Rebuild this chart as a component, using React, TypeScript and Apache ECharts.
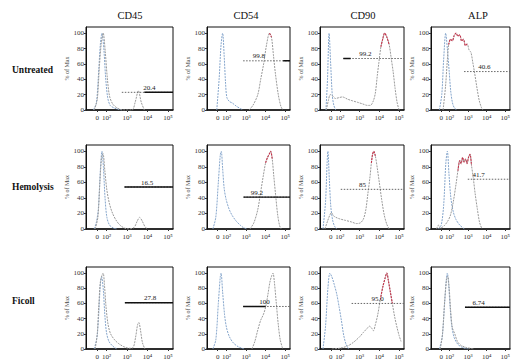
import React, { useEffect, useRef } from "react";
import * as echarts from "echarts";

const FONT = '"Liberation Serif", "DejaVu Serif", serif';

const columns = ["CD45", "CD54", "CD90", "ALP"];
const rows = ["Untreated", "Hemolysis", "Ficoll"];
const xTickValues = [1.55, 2, 3, 4, 5];
const xTickLabels = ["0", "10²", "10³", "10⁴", "10⁵"];
const yTickValues = [0, 20, 40, 60, 80, 100];
const X_MIN = 1.0;
const X_MAX = 5.25;
const Y_MAX = 108;

// ---- Untreated ----
const untreatedCD45Control = [[1.35,0],[1.5,8],[1.6,42],[1.7,85],[1.78,100],[1.87,80],[1.96,42],[2.06,16],[2.18,6],[2.35,3],[2.55,1],[2.75,0]];
const untreatedCD45Sample = [[1.4,0],[1.55,14],[1.65,55],[1.75,88],[1.84,100],[1.94,76],[2.04,42],[2.15,18],[2.3,8],[2.5,3],[2.8,0],[3.25,0],[3.4,10],[3.56,25],[3.7,10],[3.85,0]];
const untreatedCD54Control = [[1.5,0],[1.62,40],[1.72,85],[1.8,100],[1.88,70],[1.95,35],[2.02,16],[2.15,11],[2.3,9],[2.5,5],[2.7,2],[2.85,0]];
const untreatedCD54Sample = [[3.15,0],[3.35,6],[3.6,20],[3.75,40],[3.9,60],[4.05,85],[4.2,100],[4.3,95],[4.4,72],[4.5,48],[4.65,20],[4.78,5],[4.88,0]];
const untreatedCD90Control = [[1.3,0],[1.38,40],[1.46,100],[1.54,60],[1.62,20],[1.7,6],[1.8,0]];
const untreatedCD90Sample = [[1.32,0],[1.42,12],[1.52,20],[1.65,18],[1.78,15],[1.95,16],[2.13,17],[2.4,14],[2.64,12],[2.9,10],[3.15,8],[3.4,6],[3.55,6],[3.7,12],[3.8,22],[3.9,45],[3.98,62],[4.08,82],[4.18,93],[4.27,100],[4.38,95],[4.5,85],[4.6,68],[4.7,50],[4.8,28],[4.9,10],[5.0,0]];
const untreatedALPControl = [[1.45,0],[1.58,20],[1.68,65],[1.79,100],[1.88,80],[1.98,50],[2.06,25],[2.15,10],[2.25,3],[2.4,0]];
const untreatedALPSample = [[1.65,0],[1.78,30],[1.88,65],[1.95,85],[2.05,92],[2.15,90],[2.25,97],[2.35,100],[2.45,96],[2.55,98],[2.65,90],[2.75,92],[2.85,84],[2.95,86],[3.05,78],[3.15,75],[3.25,62],[3.35,48],[3.48,28],[3.6,12],[3.72,3],[3.8,0]];

// ---- Hemolysis ----
const hemolysisCD45Control = [[1.4,0],[1.5,8],[1.6,25],[1.7,75],[1.78,100],[1.85,80],[1.93,40],[2.02,15],[2.15,5],[2.35,1],[2.5,0]];
const hemolysisCD45Sample = [[1.45,0],[1.58,15],[1.68,60],[1.76,92],[1.83,97],[1.92,75],[2.02,50],[2.15,32],[2.3,20],[2.5,10],[2.7,4],[2.9,1],[3.1,0],[3.35,2],[3.5,10],[3.62,15],[3.75,10],[3.88,3],[4.0,0]];
const hemolysisCD54Control = [[1.3,0],[1.45,15],[1.58,60],[1.68,95],[1.73,100],[1.8,78],[1.88,52],[1.98,38],[2.14,25],[2.3,17],[2.5,10],[2.7,5],[2.85,2],[3.05,0]];
const hemolysisCD54Sample = [[3.2,0],[3.4,8],[3.6,25],[3.75,48],[3.88,68],[4.0,85],[4.1,92],[4.2,97],[4.26,100],[4.34,90],[4.42,68],[4.52,42],[4.62,18],[4.72,4],[4.8,0]];
const hemolysisCD90Control = [[1.15,0],[1.28,35],[1.36,85],[1.4,100],[1.47,65],[1.55,28],[1.65,10],[1.75,3],[1.85,0]];
const hemolysisCD90Sample = [[1.25,0],[1.38,10],[1.5,18],[1.58,21],[1.68,17],[1.8,15],[2.0,13],[2.3,11],[2.6,9],[2.85,7],[3.05,8],[3.2,13],[3.32,25],[3.42,45],[3.52,65],[3.6,85],[3.66,96],[3.72,100],[3.8,94],[3.9,78],[4.0,60],[4.12,38],[4.25,18],[4.38,6],[4.5,0]];
const hemolysisALPControl = [[1.4,0],[1.55,5],[1.68,30],[1.8,85],[1.88,100],[1.97,70],[2.07,40],[2.2,22],[2.35,12],[2.55,5],[2.8,0]];
const hemolysisALPSample = [[1.3,0],[1.4,5],[1.5,1],[1.7,4],[1.9,10],[2.05,18],[2.2,35],[2.35,58],[2.45,75],[2.55,88],[2.62,84],[2.7,92],[2.78,86],[2.86,90],[2.94,84],[3.02,92],[3.1,96],[3.18,82],[3.28,65],[3.38,45],[3.5,25],[3.62,8],[3.75,0]];

// ---- Ficoll ----
const ficollCD45Control = [[1.4,0],[1.48,8],[1.55,18],[1.62,45],[1.7,85],[1.76,95],[1.84,80],[1.92,45],[2.0,22],[2.12,10],[2.3,4],[2.5,0]];
const ficollCD45Sample = [[1.45,0],[1.55,20],[1.62,55],[1.7,88],[1.78,97],[1.84,100],[1.9,85],[1.98,55],[2.08,32],[2.2,20],[2.4,12],[2.6,7],[2.85,3],[3.1,1],[3.3,2],[3.42,15],[3.52,32],[3.58,35],[3.66,25],[3.76,8],[3.88,0]];
const ficollCD54Control = [[1.3,0],[1.45,12],[1.58,60],[1.68,95],[1.72,100],[1.8,75],[1.9,45],[2.0,28],[2.15,16],[2.35,8],[2.6,3],[2.9,0]];
const ficollCD54Sample = [[3.3,0],[3.45,10],[3.6,25],[3.75,38],[3.88,45],[4.0,55],[4.12,72],[4.22,88],[4.32,97],[4.38,100],[4.45,88],[4.55,60],[4.65,32],[4.75,12],[4.88,0]];
const ficollCD90Control = [[1.15,0],[1.28,30],[1.4,80],[1.5,100],[1.6,95],[1.72,85],[1.85,72],[1.97,55],[2.08,38],[2.2,18],[2.32,6],[2.45,0]];
const ficollCD90Sample = [[1.6,0],[2.0,1],[2.4,4],[2.7,9],[3.0,16],[3.2,22],[3.38,27],[3.5,30],[3.6,28],[3.7,24],[3.8,32],[3.92,45],[4.05,65],[4.18,82],[4.3,94],[4.38,100],[4.46,90],[4.56,75],[4.66,60],[4.78,42],[4.9,28],[5.0,18],[5.1,10]];
const ficollALPControl = [[1.45,0],[1.6,15],[1.72,55],[1.82,90],[1.88,100],[1.95,85],[2.03,55],[2.12,30],[2.25,15],[2.45,6],[2.7,2],[3.0,0]];
const ficollALPSample = [[1.5,0],[1.62,20],[1.74,65],[1.84,92],[1.9,96],[1.98,80],[2.06,50],[2.15,28],[2.28,20],[2.42,10],[2.6,5],[2.9,2],[3.3,0]];

const controlCurves = [
  [untreatedCD45Control, untreatedCD54Control, untreatedCD90Control, untreatedALPControl],
  [hemolysisCD45Control, hemolysisCD54Control, hemolysisCD90Control, hemolysisALPControl],
  [ficollCD45Control, ficollCD54Control, ficollCD90Control, ficollALPControl],
];
const sampleCurves = [
  [untreatedCD45Sample, untreatedCD54Sample, untreatedCD90Sample, untreatedALPSample],
  [hemolysisCD45Sample, hemolysisCD54Sample, hemolysisCD90Sample, hemolysisALPSample],
  [ficollCD45Sample, ficollCD54Sample, ficollCD90Sample, ficollALPSample],
];

// gates (percent positive)
const gateLabels = [
  ["20.4", "99.8", "99.2", "40.6"],
  ["16.5", "99.2", "85", "41.7"],
  ["27.8", "100", "95.0", "6.74"],
];
const gateY = [
  [23, 64, 67, 50],
  [54, 41, 51, 64],
  [61, 56, 60, 55],
];
const gateStart = [
  [2.75, 2.85, 2.18, 2.78],
  [2.88, 2.87, 2.05, 2.98],
  [2.9, 2.85, 2.6, 2.83],
];
const gateLabelX = [
  [4.1, 3.65, 3.3, 3.87],
  [3.98, 3.55, 3.15, 3.57],
  [4.13, 3.95, 3.92, 3.57],
];
const gateSolid: (number[] | null)[][] = [
  [[3.85, 5.25], [4.9, 5.25], [2.18, 2.55], null],
  [[2.88, 5.25], [2.87, 5.25], null, null],
  [[2.9, 5.25], [2.85, 4.0], null, [2.83, 5.25]],
];
// sample points at or above this % are drawn in red (as in the original's coloured peaks)
const redThreshold: (number | null)[][] = [
  [null, 88, 72, 80],
  [null, 85, 80, 72],
  [null, null, 58, null],
];

// layout
const gridLeft = [86, 207, 320, 431];
const gridWidth = [87, 83, 84, 86];
const gridTop = [27, 145, 267];
const gridHeight = [83, 84, 82];
const titleX = [130, 246, 363, 478];
const rowLabelY = [70, 187, 301];

const CTRL = "#86a6cc";
const SAMP = "#9a9a9a";
const RED = "#c8324a";

export default function App() {
  const ref = useRef<HTMLDivElement>(null);
  useEffect(() => {
    document.body.style.margin = "0";
    const chart = echarts.init(ref.current!, null, { renderer: "svg" });
    const grids: any[] = [];
    const xAxes: any[] = [];
    const yAxes: any[] = [];
    const series: any[] = [];

    rows.forEach((_, r) => {
      columns.forEach((_, c) => {
        const i = r * 4 + c;
        grids.push({
          left: gridLeft[c], top: gridTop[r], width: gridWidth[c], height: gridHeight[r],
          show: true, borderColor: "#111", borderWidth: 1, backgroundColor: "transparent",
        });
        xAxes.push({
          gridIndex: i, type: "value", min: X_MIN, max: X_MAX,
          axisLine: { show: true, onZero: false, lineStyle: { color: "#111", width: 1.5 } },
          axisTick: { show: true, customValues: xTickValues, length: 2, lineStyle: { color: "#333" } },
          axisLabel: {
            customValues: xTickValues,
            formatter: (v: number) => {
              const k = xTickValues.findIndex((t) => Math.abs(t - v) < 1e-6);
              return k >= 0 ? xTickLabels[k] : "";
            },
            fontSize: 7, fontFamily: FONT, color: "#333", margin: 4,
          },
          splitLine: { show: false },
        });
        yAxes.push({
          gridIndex: i, type: "value", min: 0, max: Y_MAX,
          name: "% of Max", nameLocation: "middle", nameGap: 11, nameRotate: 90,
          nameTextStyle: { fontSize: 6, fontFamily: FONT, color: "#444" },
          axisLine: { show: true, lineStyle: { color: "#111", width: 1 } },
          axisTick: { show: true, customValues: yTickValues, length: 2, lineStyle: { color: "#333" } },
          axisLabel: { customValues: yTickValues, fontSize: 7, fontFamily: FONT, color: "#333", margin: 2 },
          splitLine: { show: false },
        });
        series.push({
          type: "line", xAxisIndex: i, yAxisIndex: i, data: controlCurves[r][c],
          smooth: 0.3, showSymbol: false, silent: true, z: 3,
          lineStyle: { color: CTRL, width: 1, type: [2, 1] },
        });
        series.push({
          type: "line", xAxisIndex: i, yAxisIndex: i, data: sampleCurves[r][c],
          smooth: 0.3, showSymbol: false, silent: true, z: 4,
          lineStyle: { color: SAMP, width: 1, type: [2, 1] },
        });
        const thr = redThreshold[r][c];
        if (thr != null) {
          series.push({
            type: "line", xAxisIndex: i, yAxisIndex: i,
            data: sampleCurves[r][c].filter((p) => p[1] >= thr),
            smooth: 0.3, showSymbol: false, silent: true, z: 4,
            lineStyle: { color: RED, width: 1.1, type: [2, 1] },
          });
        }
        const gy = gateY[r][c];
        series.push({
          type: "line", xAxisIndex: i, yAxisIndex: i,
          data: [[gateStart[r][c], gy], [X_MAX, gy]],
          showSymbol: false, silent: true, z: 5,
          lineStyle: { color: "#666", width: 1, type: [1.5, 1.5] },
        });
        const solid = gateSolid[r][c];
        if (solid) {
          series.push({
            type: "line", xAxisIndex: i, yAxisIndex: i,
            data: [[solid[0], gy], [solid[1], gy]],
            showSymbol: false, silent: true, z: 6,
            lineStyle: { color: "#111", width: 1.4 },
          });
        }
      });
    });

    const graphics: any[] = [];
    columns.forEach((t, c) => {
      graphics.push({
        type: "text", x: titleX[c], y: 15,
        style: { text: t, fill: "#111", font: `10.5px ${FONT}`, align: "center", verticalAlign: "middle" },
      });
    });
    rows.forEach((t, r) => {
      graphics.push({
        type: "text", x: 12, y: rowLabelY[r],
        style: { text: t, fill: "#111", font: `bold 9.5px ${FONT}`, align: "left", verticalAlign: "middle" },
      });
    });

    chart.setOption({
      animation: false,
      backgroundColor: "#fff",
      grid: grids,
      xAxis: xAxes,
      yAxis: yAxes,
      series,
    });

    // gate percentages placed through each panel's own axes
    rows.forEach((_, r) => {
      columns.forEach((_, c) => {
        const i = r * 4 + c;
        const pt = chart.convertToPixel({ gridIndex: i }, [gateLabelX[r][c], gateY[r][c]]) as number[];
        if (pt && isFinite(pt[0]) && isFinite(pt[1])) {
          graphics.push({
            type: "text", x: pt[0], y: pt[1] - 1, z: 20,
            style: { text: gateLabels[r][c], fill: "#1a1a1a", font: `7px ${FONT}`, align: "center", verticalAlign: "bottom" },
          });
        }
      });
    });
    chart.setOption({ graphic: graphics });
    return () => chart.dispose();
  }, []);
  return <div ref={ref} style={{ width: 513, height: 364 }} />;
}
